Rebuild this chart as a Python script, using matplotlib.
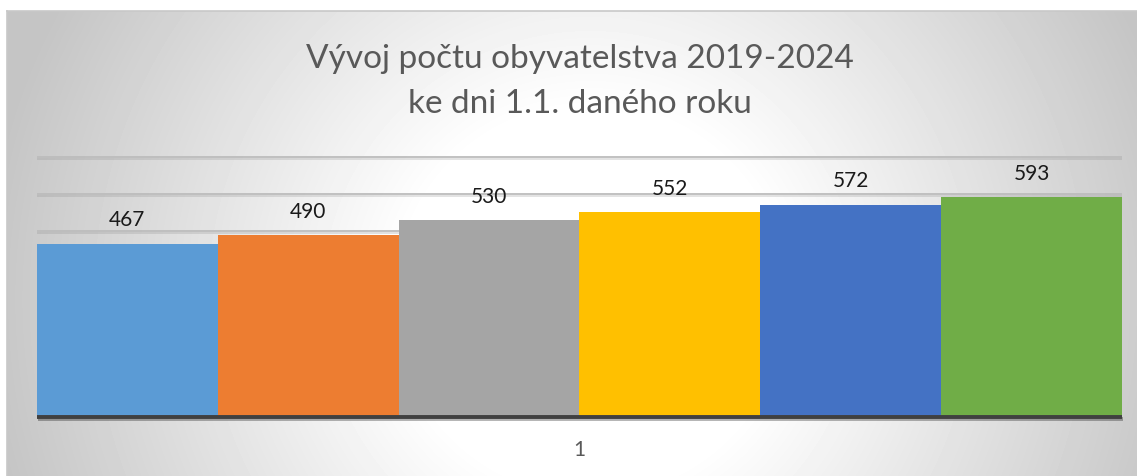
import numpy as np
import matplotlib
matplotlib.use("Agg")
import matplotlib.pyplot as plt
import matplotlib.patheffects as pe

# ---- data ----
series_names = ["2019", "2020", "2021", "2022", "2023", "2024"]
values = [467, 490, 530, 552, 572, 593]
colors = ["#5B9BD5", "#ED7D31", "#A5A5A5", "#FFC000", "#4472C4", "#70AD47"]
category_label = "1"
title_line1 = "Vývoj počtu obyvatelstva 2019-2024"
title_line2 = "ke dni 1.1. daného roku"
y_max = 700
grid_step = 100

FONT = ["Lato", "DejaVu Sans"]
W, H = 1137, 477
fig = plt.figure(figsize=(W / 100, H / 100), dpi=100)
fig.patch.set_facecolor("white")

# ---- radial gradient background of chart area ----
x0, y0 = 7, 12
bg = fig.add_axes([x0 / W, 0, 1 - x0 / W, 1 - y0 / H], zorder=0)
xx, yy = np.meshgrid(np.arange(x0, W), np.arange(y0, H))
d = np.hypot((xx - 590) * 1.0, (yy - 300) * 1.0)
t = np.clip((d - 190) / 420, 0, 1)
g = 1.0 - t * (1.0 - 0.77)
bg.imshow(g, cmap="gray", vmin=0, vmax=1, aspect="auto", interpolation="bilinear")
bg.set_axis_off()
# border lines of chart area
fig.add_artist(plt.Line2D([x0 / W, 1], [1 - y0 / H, 1 - y0 / H], color="#c8c8c8", lw=1.2))
fig.add_artist(plt.Line2D([x0 / W, x0 / W], [0, 1 - y0 / H], color="#c8c8c8", lw=1.2))

# ---- plot area ----
left, right, base, top = 37, 1122, 418, 158
ax = fig.add_axes([left / W, (H - base) / H, (right - left) / W, (base - top) / H], zorder=1)
ax.set_facecolor("none")
n = len(values)
xs = np.arange(n)
ax.bar(xs, values, width=1.0, color=colors, zorder=3)
ax.set_xlim(-0.5, n - 0.5)
ax.set_ylim(0, y_max)

for yv in range(grid_step, y_max + 1, grid_step):
    if yv < max(values) and yv < min(values):
        continue  # hidden behind the bars
    ax.axhline(yv, color="#bcbcbc", lw=1.3, zorder=1, clip_on=(yv != y_max),
               solid_capstyle="butt",
               path_effects=[pe.SimpleLineShadow(offset=(0, -1.2), shadow_color="#888888", alpha=0.25), pe.Normal()])
ax.axhline(0, color="#404040", lw=2.8, zorder=4, clip_on=False, solid_capstyle="butt",
           path_effects=[pe.SimpleLineShadow(offset=(1, -1.2), shadow_color="black", alpha=0.3), pe.Normal()])

for xi, v in zip(xs, values):
    ax.annotate(str(v), (xi, v), xytext=(0, 13), textcoords="offset points",
                ha="center", va="baseline", fontsize=15, color="#1a1a1a", family=FONT, zorder=5)

for s in ax.spines.values():
    s.set_visible(False)
ax.set_yticks([])
ax.set_xticks([(n - 1) / 2])
ax.set_xticklabels([category_label], fontsize=15, color="#595959", family=FONT)
ax.tick_params(axis="x", length=0, pad=16)

# ---- title ----
fig.text(580 / W, 1 - 68 / H, title_line1, ha="center", va="baseline",
         fontsize=24, color="#595959", family=FONT)
fig.text(580 / W, 1 - 113 / H, title_line2, ha="center", va="baseline",
         fontsize=24, color="#595959", family=FONT)

fig.savefig("out.png", dpi=100)
